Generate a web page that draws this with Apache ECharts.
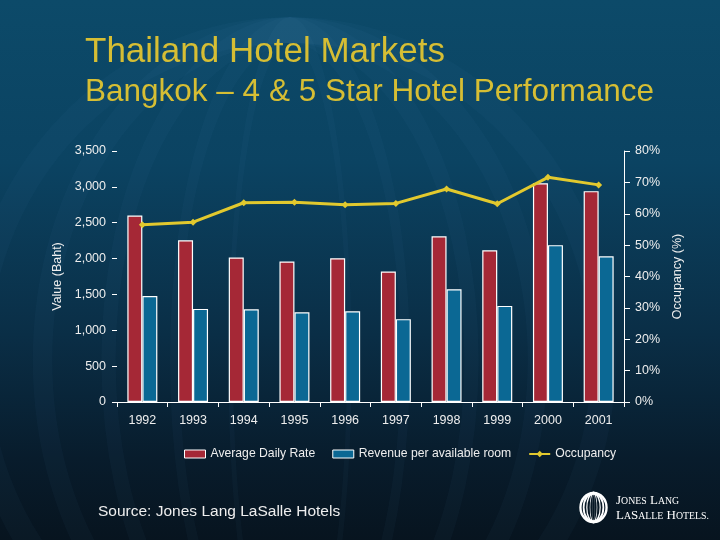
<!DOCTYPE html>
<html>
<head>
<meta charset="utf-8">
<script src="https://cdn.jsdelivr.net/npm/echarts@6/dist/echarts.min.js"></script>
<style>
html,body{margin:0;padding:0;background:#0a3550;}
#chart{width:720px;height:540px;}
</style>
</head>
<body>
<div id="chart"></div>
<script>
// ---- data ----
var years = ['1992','1993','1994','1995','1996','1997','1998','1999','2000','2001'];
var averageDailyRate = [2600, 2255, 2015, 1960, 2005, 1820, 2310, 2115, 3050, 2940];
var revPar = [1478, 1298, 1292, 1250, 1265, 1155, 1572, 1340, 2187, 2032];
var occupancy = [56.5, 57.3, 63.5, 63.7, 62.9, 63.3, 67.9, 63.2, 71.6, 69.2];
var leftTicks = {min: 0, max: 3500, interval: 500};
var rightTicks = {min: 0, max: 80, interval: 10};

var FONT = '"Liberation Sans", Arial, sans-serif';
var TXT = '#eeeeee';

var chart = echarts.init(document.getElementById('chart'));

// faint background ellipses (slide decoration)
var bgShapes = [];
[0.95, 0.75, 0.55, 0.35, 0.18].forEach(function (s, i) {
  bgShapes.push({
    type: 'circle', silent: true, z: -10,
    x: 290, y: 360, scaleX: s, scaleY: 1,
    shape: {cx: 0, cy: 0, r: 330},
    style: {fill: 'none', stroke: 'rgba(120,180,220,0.035)', lineWidth: 26, strokeNoScale: true}
  });
});

// logo ellipses
var logo = [];
[0.9, 0.68, 0.46, 0.24, 0.06].forEach(function (s) {
  logo.push({
    type: 'circle', silent: true, z: 10,
    x: 593.5, y: 507.5, scaleX: s, scaleY: 1,
    shape: {cx: 0, cy: 0, r: 14.5},
    style: {fill: 'none', stroke: '#ffffff', lineWidth: 2.6, strokeNoScale: true}
  });
});

var serif = '"Liberation Serif", serif';
var logoRich = {b: {fontSize: 13, fontFamily: serif, fill: '#ffffff'}, s: {fontSize: 9.8, fontFamily: serif, fill: '#ffffff'}};

var option = {
  backgroundColor: {
    type: 'linear', x: 0, y: 0, x2: 0, y2: 1,
    colorStops: [
      {offset: 0, color: '#0c4a69'},
      {offset: 0.3, color: '#0b4362'},
      {offset: 0.62, color: '#0a2e46'},
      {offset: 0.85, color: '#081c2c'},
      {offset: 1, color: '#07141f'}
    ]
  },
  textStyle: {fontFamily: FONT},
  animation: false,
  graphic: bgShapes.concat(logo).concat([
    {type: 'text', silent: true, style: {x: 85, y: 52, text: 'Thailand Hotel Markets', fill: '#d6be34', font: '35px ' + FONT, verticalAlign: 'middle'}},
    {type: 'text', silent: true, style: {x: 85, y: 92, text: 'Bangkok \u2013 4 & 5 Star Hotel Performance', fill: '#d6be34', font: '31.5px ' + FONT, verticalAlign: 'middle'}},
    {type: 'text', silent: true, style: {x: 98, y: 512, text: 'Source: Jones Lang LaSalle Hotels', fill: TXT, font: '15.5px ' + FONT, verticalAlign: 'middle'}},
    {type: 'text', silent: true, style: {x: 616, y: 501, text: '{b|J}{s|ONES} {b|L}{s|ANG}', verticalAlign: 'middle', fill: '#ffffff', rich: logoRich}},
    {type: 'text', silent: true, style: {x: 616, y: 516, text: '{b|L}{s|A}{b|S}{s|ALLE} {b|H}{s|OTELS.}', verticalAlign: 'middle', fill: '#ffffff', rich: logoRich}}
  ]),
  grid: {left: 117, right: 96, top: 151, bottom: 138, containLabel: false},
  legend: {
    left: 184, top: 448, padding: 0,
    itemWidth: 21, itemHeight: 8, itemGap: 17,
    textStyle: {color: TXT, fontSize: 12.2, fontFamily: FONT},
    data: [
      {name: 'Average Daily Rate', icon: 'rect', itemStyle: {borderColor: '#ffffff', borderWidth: 1}},
      {name: 'Revenue per available room', icon: 'rect', itemStyle: {borderColor: '#ffffff', borderWidth: 1}},
      {name: 'Occupancy'}
    ]
  },
  xAxis: [
    {
      type: 'category', data: years, position: 'bottom',
      axisLine: {show: false},
      axisTick: {show: true, length: 5, lineStyle: {color: '#ffffff', width: 1}},
      axisLabel: {color: TXT, fontSize: 12.5, margin: 12, fontFamily: FONT},
      splitLine: {show: false}
    },
    {
      type: 'category', data: years, position: 'top',
      axisLine: {show: true, lineStyle: {color: '#ffffff', width: 1}},
      axisTick: {show: false}, axisLabel: {show: false}, splitLine: {show: false}
    }
  ],
  yAxis: [
    {
      type: 'value', min: leftTicks.min, max: leftTicks.max, interval: leftTicks.interval,
      position: 'left',
      name: 'Value (Baht)', nameLocation: 'middle', nameRotate: 90, nameGap: 49,
      nameTextStyle: {color: TXT, fontSize: 12.5, fontFamily: FONT},
      axisLine: {show: false},
      axisTick: {show: true, length: 5, lineStyle: {color: '#ffffff', width: 1}},
      axisLabel: {color: TXT, fontSize: 12.5, margin: 11, fontFamily: FONT,
        formatter: function (v) { return v.toLocaleString('en-US'); }},
      splitLine: {show: false}
    },
    {
      type: 'value', min: rightTicks.min, max: rightTicks.max, interval: rightTicks.interval,
      position: 'right',
      name: 'Occupancy (%)', nameLocation: 'middle', nameRotate: 90, nameGap: 40,
      nameTextStyle: {color: TXT, fontSize: 12.5, fontFamily: FONT},
      axisLine: {show: true, lineStyle: {color: '#ffffff', width: 1}},
      axisTick: {show: true, length: 6, lineStyle: {color: '#ffffff', width: 1}},
      axisLabel: {color: TXT, fontSize: 12.5, margin: 11, fontFamily: FONT, formatter: '{value}%'},
      splitLine: {show: false}
    }
  ],
  series: [
    {
      name: 'Average Daily Rate', type: 'bar', data: averageDailyRate,
      xAxisIndex: 0, yAxisIndex: 0,
      barWidth: 15, barGap: '0%',
      itemStyle: {color: '#a52836', borderColor: '#ffffff', borderWidth: 1.2}
    },
    {
      name: 'Revenue per available room', type: 'bar', data: revPar,
      xAxisIndex: 0, yAxisIndex: 0,
      barWidth: 15, barGap: '0%',
      itemStyle: {color: '#0b6894', borderColor: '#ffffff', borderWidth: 1.2}
    },
    {
      name: 'Occupancy', type: 'line', data: occupancy,
      xAxisIndex: 0, yAxisIndex: 1, z: 5,
      symbol: 'diamond', symbolSize: 7,
      lineStyle: {color: '#e2c92e', width: 3},
      itemStyle: {color: '#e2c92e'}
    }
  ]
};
chart.setOption(option);
</script>
</body>
</html>
